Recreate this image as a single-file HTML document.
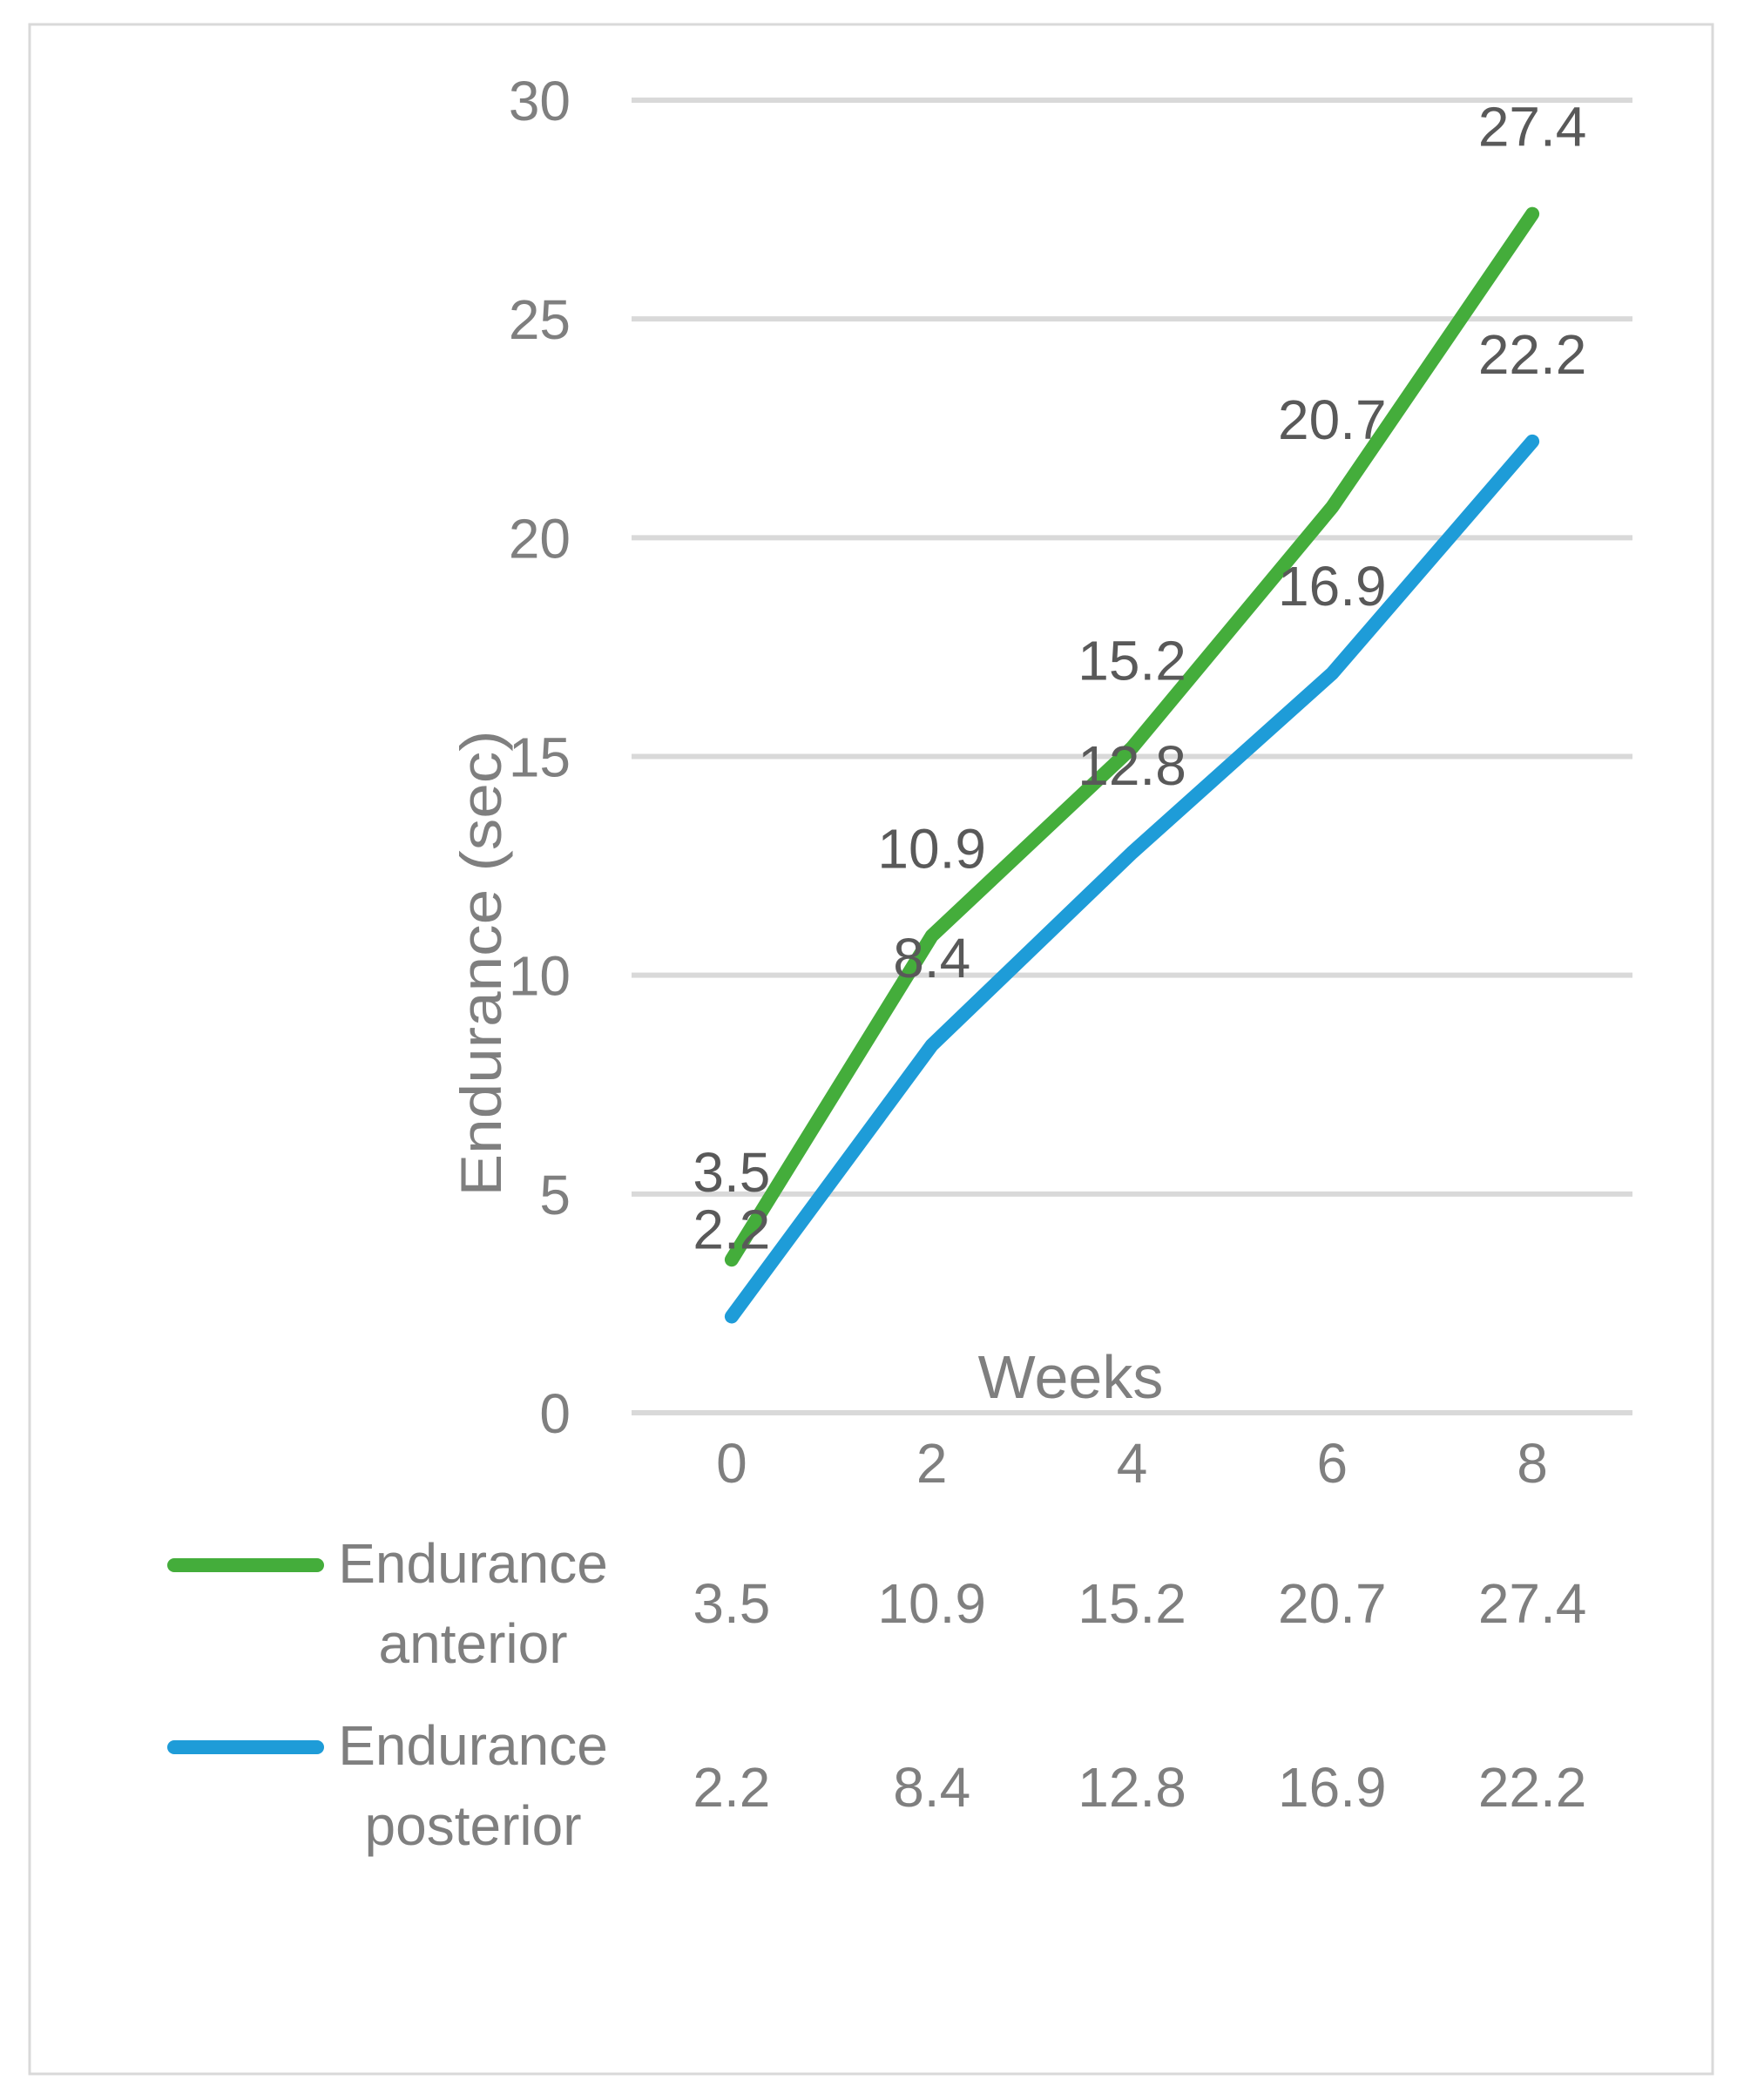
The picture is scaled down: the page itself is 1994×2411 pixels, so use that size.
<!DOCTYPE html>
<html><head><meta charset="utf-8"><style>
html,body{margin:0;padding:0;background:#fff}
svg{display:block;font-family:"Liberation Sans",sans-serif}
</style></head><body>
<svg id="chart" width="1994" height="2411" viewBox="0 0 1994 2411" xmlns="http://www.w3.org/2000/svg">
<rect x="34" y="28" width="1932" height="2353" fill="#fff" stroke="#d9d9d9" stroke-width="3"/>
<g id="grid"></g><g id="yticks"></g><g id="xticks"></g><g id="lines"></g><g id="labels"></g><g id="table"></g>
<text transform="translate(575,1106) rotate(-90)" text-anchor="middle" font-size="66" fill="#7f7f7f" textLength="535" lengthAdjust="spacingAndGlyphs">Endurance (sec)</text>
<text x="1229" y="1605" text-anchor="middle" font-size="70" fill="#7f7f7f">Weeks</text>
</svg>
<script>
const categories=["0","2","4","6","8"];
const anterior=[3.5,10.9,15.2,20.7,27.4];
const posterior=[2.2,8.4,12.8,16.9,22.2];
const yTicks=[0,5,10,15,20,25,30];
const seriesNames=[["Endurance","anterior"],["Endurance","posterior"]];
const NS="http://www.w3.org/2000/svg";
const plotL=725,plotR=1874,y0=1622,y30=115;
const bw=(plotR-plotL)/categories.length;
const X=i=>plotL+bw*(i+0.5);
const Y=v=>y0-(v/30)*(y0-y30);
function mk(tag,attrs,parent,txt){const e=document.createElementNS(NS,tag);for(const k in attrs)e.setAttribute(k,attrs[k]);if(txt!==undefined)e.textContent=txt;parent.appendChild(e);return e;}
const g=id=>document.getElementById(id);
yTicks.forEach(t=>{
  const l=mk('line',{x1:plotL,x2:plotR,y1:Y(t),y2:Y(t),stroke:'#d9d9d9','stroke-width':6},g('grid'));
  
  
  const tx=mk('text',{x:655,y:Y(t)+23,'text-anchor':'end','font-size':64,fill:'#7f7f7f'},g('yticks'),String(t));
  
  
});
categories.forEach((c,i)=>{
  const tx=mk('text',{x:X(i),y:1702,'text-anchor':'middle','font-size':64,fill:'#7f7f7f'},g('xticks'),c);
  
  
});
const series=[[anterior,'#44ad3b','anterior'],[posterior,'#1e9cd8','posterior']];
series.forEach(([d,col,nm],si)=>{
  const p=mk('polyline',{points:d.map((v,i)=>X(i)+','+Y(v)).join(' '),fill:'none',stroke:col,'stroke-width':16,'stroke-linecap':'round','stroke-linejoin':'round'},g('lines'));
  
  
  d.forEach((v,i)=>{
    const t=mk('text',{x:X(i),y:Y(v)-78,'text-anchor':'middle','font-size':64,fill:'#595959'},g('labels'),v.toFixed(1));
    
    
    const tv=mk('text',{x:X(i),y:si===0?1863:2074,'text-anchor':'middle','font-size':64,fill:'#7f7f7f'},g('table'),v.toFixed(1));
    
    
  });
  const ly=si===0?1797:2006;
  const ll=mk('line',{x1:200,x2:364,y1:ly,y2:ly,stroke:col,'stroke-width':16,'stroke-linecap':'round'},g('table'));
  
  
  const t1=mk('text',{x:543,y:ly+20,'text-anchor':'middle','font-size':64,fill:'#7f7f7f'},g('table'),seriesNames[si][0]);
  
  
  const t2=mk('text',{x:543,y:ly+112,'text-anchor':'middle','font-size':64,fill:'#7f7f7f'},g('table'),seriesNames[si][1]);
  
  
});
</script>
</body></html>
